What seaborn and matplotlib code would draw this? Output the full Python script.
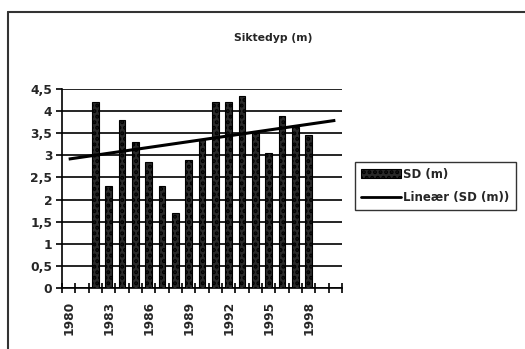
import numpy as np
import pandas as pd
import seaborn as sns
import matplotlib.pyplot as plt
from matplotlib.lines import Line2D
from matplotlib.patches import Patch

# Category axis covers 1980-2000; Secchi depth measured 1982-1998
years = list(range(1980, 2001))
sd_years = [1982, 1983, 1984, 1985, 1986, 1987, 1988, 1989, 1990,
            1991, 1992, 1993, 1994, 1995, 1996, 1997, 1998]
sd_values = [4.2, 2.3, 3.8, 3.3, 2.85, 2.3, 1.7, 2.9, 3.35,
             4.2, 4.2, 4.35, 3.5, 3.05, 3.9, 3.65, 3.45]
label_years = [1980, 1983, 1986, 1989, 1992, 1995, 1998]
y_ticks = [0, 0.5, 1, 1.5, 2, 2.5, 3, 3.5, 4, 4.5]
title = "Siktedyp (m)"
series_label = "SD (m)"
trend_label = "Lineær (SD (m))"

sns.set_theme(style="white")
plt.rcParams['font.family'] = ['DejaVu Sans']
plt.rcParams['hatch.color'] = 'white'
plt.rcParams['hatch.linewidth'] = 2.0

W, H = 525, 349
fig = plt.figure(figsize=(W / 100, H / 100), dpi=100)
fig.patch.set_facecolor('white')
ax = fig.add_axes([62 / W, 1 - 288 / H, 280 / W, 199 / H])

df = pd.DataFrame({"År": sd_years, series_label: sd_values})
bar_color = '#2a2a2a'
sns.barplot(data=df, x="År", y=series_label, order=years, color=bar_color,
            saturation=1, width=0.52, hatch='...', edgecolor='black',
            linewidth=0.8, ax=ax, zorder=3)

# Least-squares linear trend over the whole category range
coef = np.polyfit(sd_years, sd_values, 1)
pos = np.arange(len(years))
ax.plot(pos, np.polyval(coef, years), color='black', lw=2.2, zorder=4,
        solid_capstyle='butt')

ax.set_xlim(-0.5, len(years) - 0.5)
ax.set_ylim(0, 4.5)
ax.set_xlabel("")
ax.set_ylabel("")

# y axis with comma decimals and black gridlines
ax.set_yticks(y_ticks)
ax.set_yticklabels([f"{v:g}".replace('.', ',') for v in y_ticks],
                   fontsize=8.8, fontweight='bold')
ax.yaxis.grid(True, color='black', lw=1.2, zorder=1)
ax.set_axisbelow(True)
ax.tick_params(axis='y', direction='out', length=4, width=1.2,
               color='black', pad=3, left=True)

# x axis: tick marks between categories, labels every third year
ax.set_xticks(np.arange(-0.5, len(years), 1.0))
ax.set_xticklabels([])
ax.tick_params(axis='x', which='major', direction='inout', length=7,
               width=1.2, color='black', bottom=True)
ax.set_xticks([years.index(y) for y in label_years], minor=True)
ax.set_xticklabels([str(y) for y in label_years], minor=True, rotation=90,
                   fontsize=8.8, fontweight='bold')
ax.tick_params(axis='x', which='minor', length=0, pad=9)

for s in ['top', 'right']:
    ax.spines[s].set_visible(False)
for s in ['left', 'bottom']:
    ax.spines[s].set_color('black')
    ax.spines[s].set_linewidth(1.2)

fig.text(273 / W, 1 - 38 / H, title, ha='center', va='center',
         fontsize=7.8, fontweight='bold')

handles = [Patch(facecolor=bar_color, hatch='...', edgecolor='black', lw=0.8),
           Line2D([], [], color='black', lw=2)]
leg = fig.legend(handles, [series_label, trend_label], loc='upper left',
                 bbox_to_anchor=(355 / W, 1 - 162 / H), frameon=True,
                 fancybox=False, edgecolor='black', borderaxespad=0,
                 handlelength=3.4, handleheight=0.8, handletextpad=0.2,
                 borderpad=0.5, labelspacing=0.85,
                 prop={'size': 8.5, 'weight': 'bold'})
leg.get_frame().set_linewidth(1.0)

# outer chart frame
fig.add_artist(Line2D([8 / W, 8 / W], [0, 1 - 12 / H], color='#333333', lw=1.5))
fig.add_artist(Line2D([8 / W, 1], [1 - 12 / H, 1 - 12 / H], color='#333333', lw=1.5))

fig.savefig("out.png", dpi=100, facecolor='white')
